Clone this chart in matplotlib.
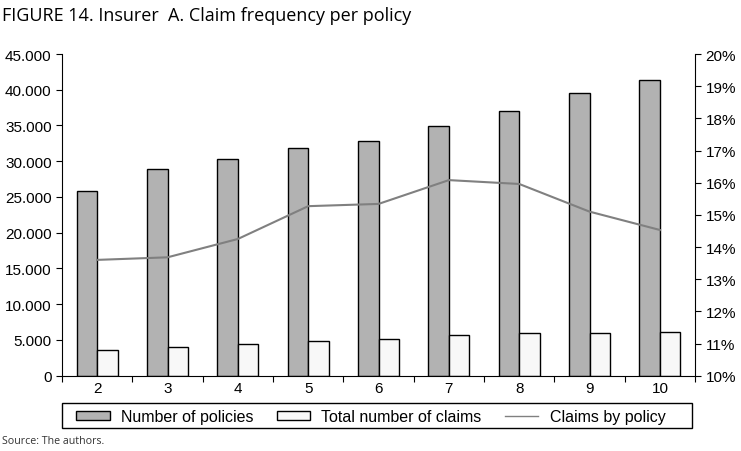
import numpy as np
import matplotlib
matplotlib.use('Agg')
import matplotlib.pyplot as plt
from matplotlib.ticker import FuncFormatter, FixedLocator

plt.rcParams['font.family'] = ['Liberation Sans', 'DejaVu Sans']

years = ['2', '3', '4', '5', '6', '7', '8', '9', '10']
policies = [25900, 28900, 30300, 31800, 32800, 34900, 37000, 39550, 41300]
claims = [3550, 3950, 4400, 4800, 5100, 5650, 5950, 5950, 6050]
claims_by_policy = [0.1360, 0.1368, 0.1425, 0.1527, 0.1534, 0.1608, 0.1596, 0.1510, 0.1453]

x = np.arange(len(years))
w = 0.29

fig = plt.figure(figsize=(7.41, 4.52), dpi=100)
ax = fig.add_axes([0.0837, 0.1666, 0.8543, 0.7117])
ax2 = ax.twinx()

ax.bar(x - w / 2, policies, w, color='#b2b2b2', edgecolor='black', linewidth=1.0, zorder=2)
ax.bar(x + w / 2, claims, w, color='#f8f8f8', edgecolor='black', linewidth=1.0, zorder=2)
ax2.plot(x, claims_by_policy, color='#808080', linewidth=1.5)

ax.set_xlim(-0.5, len(years) - 0.5)
ax.set_ylim(0, 45000)
ax.set_yticks(np.arange(0, 45001, 5000))
ax.yaxis.set_major_formatter(FuncFormatter(lambda v, p: f'{int(v):,}'.replace(',', '.')))
ax2.set_ylim(0.10, 0.20)
ax2.set_yticks(np.arange(0.10, 0.2001, 0.01))
ax2.yaxis.set_major_formatter(FuncFormatter(lambda v, p: f'{round(v * 100)}%'))

ax.set_xticks(x)
ax.set_xticklabels(years)
ax.tick_params(axis='x', which='major', length=0, pad=4, labelsize=11)
ax.xaxis.set_minor_locator(FixedLocator(np.arange(-0.5, len(years), 1.0)))
ax.tick_params(axis='x', which='minor', length=4, direction='out', width=0.8)
ax.tick_params(axis='y', length=4, direction='out', width=0.8, labelsize=11)
ax2.tick_params(axis='y', length=4, direction='out', width=0.8, labelsize=11)

for a in (ax, ax2):
    a.spines['top'].set_visible(False)
ax.spines['right'].set_visible(False)
ax2.spines['left'].set_visible(False)
ax2.spines['bottom'].set_visible(False)

# legend: entries without frame, frame drawn as a separate box spanning the plot width
handles = [
    plt.Rectangle((0, 0), 1, 1, facecolor='#b2b2b2', edgecolor='black', linewidth=1.0),
    plt.Rectangle((0, 0), 1, 1, facecolor='#f8f8f8', edgecolor='black', linewidth=1.0),
    plt.Line2D([], [], color='#808080', linewidth=1.0),
]
fig.legend(handles, ['Number of policies', 'Total number of claims', 'Claims by policy'],
           loc='center left', bbox_to_anchor=(0.103, 0.0765), ncol=3, frameon=False,
           fontsize=11.5, handlelength=2.1, handleheight=0.45, handletextpad=0.7,
           columnspacing=1.45, borderpad=0, borderaxespad=0)
fig.patches.append(plt.Rectangle((0.0837, 0.0509), 0.850, 0.0553, transform=fig.transFigure,
                                 fill=False, edgecolor='black', linewidth=1.0))

fig.text(0.003, 0.965, 'FIGURE 14. Insurer  A. Claim frequency per policy',
         fontsize=13, family='Open Sans', va='center', ha='left')
fig.text(0.003, 0.024, 'Source: The authors.', fontsize=7.7, family='Open Sans',
         color='#333333', va='center', ha='left')

fig.savefig('out.png', dpi=100)
